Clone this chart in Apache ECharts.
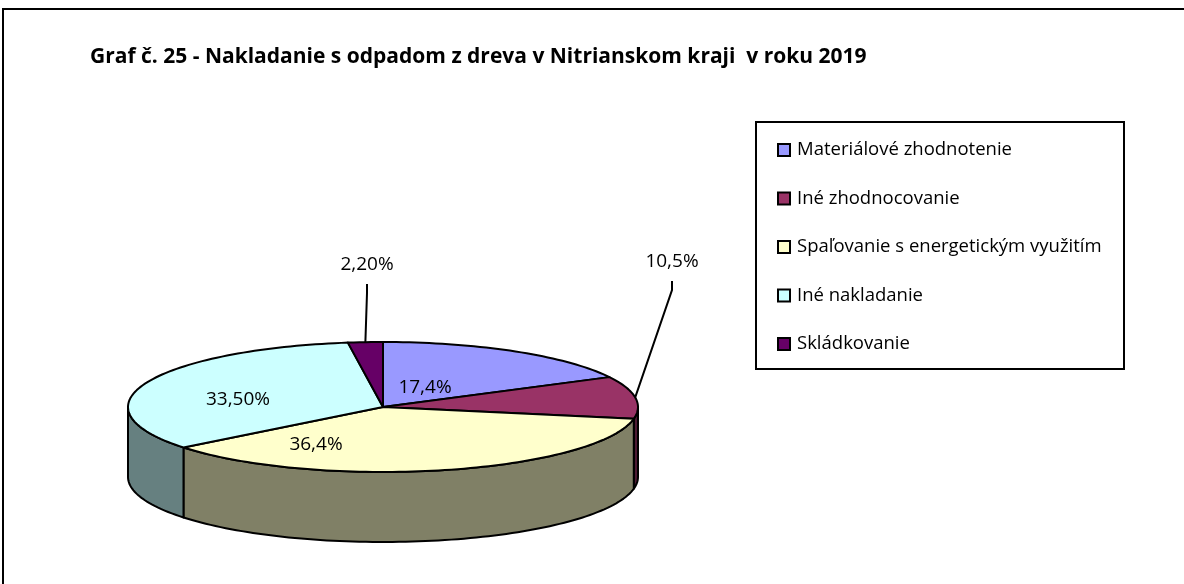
<!DOCTYPE html>
<html>
<head>
<meta charset="utf-8">
<script src="https://cdn.jsdelivr.net/npm/echarts@6/dist/echarts.min.js"></script>
<style>
  html, body { margin: 0; padding: 0; background: #fff; }
  #chart { width: 1184px; height: 584px; }
</style>
</head>
<body>
<div id="chart"></div>
<script>
// data
var categories = ['Materiálové zhodnotenie', 'Iné zhodnocovanie', 'Spaľovanie s energetickým využitím', 'Iné nakladanie', 'Skládkovanie'];
var values = [17.4, 10.5, 36.4, 33.5, 2.2];
var labels = ['17,4%', '10,5%', '36,4%', '33,50%', '2,20%'];

// styles
var topColors = ['#9999FF', '#993366', '#FFFFCC', '#CCFFFF', '#660066'];
var sideColors = ['#5c5c99', '#4d1a33', '#808066', '#668080', '#330033'];
var FONT = '"Open Sans", sans-serif';

// layout of the tilted pie
var CX = 383, CY = 407, RX = 255, RY = 65, DEPTH = 70;
// label position relative to pie centre, and whether it has a leader line
var labelOffsets = [[42, -19], [289, -145], [-67, 38], [-145, -7], [-16, -142]];
var hasLeader = [false, true, false, false, true];

var total = values.reduce(function (s, v) { return s + v; }, 0);
var starts = [];
var acc = 0;
values.forEach(function (v) { starts.push(acc / total * 360); acc += v; });

function pt(deg, dy) {
    var r = deg * Math.PI / 180;
    return [CX + RX * Math.sin(r), CY - RY * Math.cos(r) + dy];
}
function arc(a0, a1, dy) {
    var n = Math.max(2, Math.ceil(Math.abs(a1 - a0) / 1.5));
    var pts = [];
    for (var k = 0; k <= n; k++) {
        pts.push(pt(a0 + (a1 - a0) * k / n, dy));
    }
    return pts;
}

function makeRender(i) {
    return function (params, api) {
        var a0 = starts[i];
        var a1 = a0 + api.value(0) / total * 360;
        var children = [];

        // outer wall, only the front half (90..270 deg) is visible
        var s0 = Math.max(a0, 90), s1 = Math.min(a1, 270);
        if (s1 > s0) {
            var side = arc(s0, s1, 0).concat(arc(s0, s1, DEPTH).reverse());
            children.push({
                type: 'polygon', z2: 1,
                shape: { points: side },
                style: { fill: sideColors[i], stroke: '#000', lineWidth: 2, lineJoin: 'round' }
            });
        }

        // top face
        var top = [[CX, CY]].concat(arc(a0, a1, 0));
        children.push({
            type: 'polygon', z2: 10,
            shape: { points: top },
            style: { fill: topColors[i], stroke: '#000', lineWidth: 2, lineJoin: 'round' }
        });

        var lx = CX + labelOffsets[i][0], ly = CY + labelOffsets[i][1];
        if (hasLeader[i]) {
            var mid = pt((a0 + a1) / 2, 0);
            children.push({
                type: 'polyline', z2: 20,
                shape: { points: [[lx, ly + 19], [lx, ly + 28], mid] },
                style: { stroke: '#000', lineWidth: 2, fill: null }
            });
        }
        children.push({
            type: 'text', z2: 30,
            style: {
                text: labels[i], x: lx, y: ly,
                align: 'center', verticalAlign: 'middle',
                font: '19px ' + FONT, fill: '#000'
            }
        });
        return { type: 'group', children: children };
    };
}

var series = categories.map(function (name, i) {
    return {
        name: name,
        type: 'custom',
        coordinateSystem: 'none',
        itemStyle: { color: topColors[i], borderColor: '#000', borderWidth: 2 },
        renderItem: makeRender(i),
        data: [values[i]]
    };
});

var chart = echarts.init(document.getElementById('chart'));
chart.setOption({
    animation: false,
    title: {
        text: 'Graf č. 25 - Nakladanie s odpadom z dreva v Nitrianskom kraji  v roku 2019',
        left: 90,
        top: 45,
        padding: 0,
        textStyle: { fontFamily: FONT, fontWeight: 'bold', fontSize: 21, color: '#000', lineHeight: 24 }
    },
    legend: {
        orient: 'vertical',
        left: 777,
        top: 140,
        padding: 0,
        icon: 'rect',
        itemWidth: 12,
        itemHeight: 12,
        itemGap: 28.5,
        selectedMode: false,
        itemStyle: { borderColor: '#000', borderWidth: 2 },
        textStyle: { fontFamily: FONT, fontSize: 18.5, color: '#000', lineHeight: 20, padding: [0, 0, 0, 2] },
        data: categories
    },
    graphic: [
        {
            type: 'rect', silent: true,
            shape: { x: 3, y: 9, width: 1200, height: 600 },
            style: { fill: null, stroke: '#000', lineWidth: 2 }
        },
        {
            type: 'rect', silent: true,
            shape: { x: 756, y: 122, width: 368, height: 247 },
            style: { fill: null, stroke: '#000', lineWidth: 2 }
        }
    ],
    series: series
});
</script>
</body>
</html>
